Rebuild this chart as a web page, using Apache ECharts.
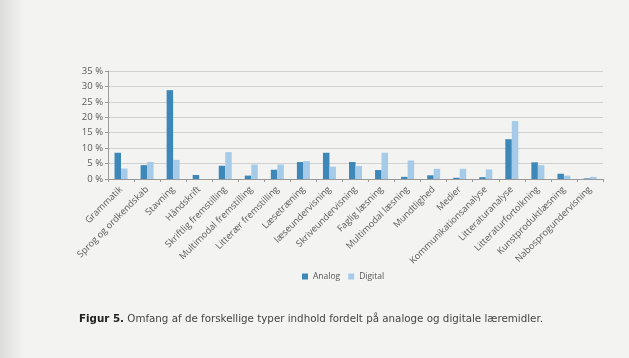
<!DOCTYPE html>
<html><head><meta charset="utf-8">
<script src="https://cdn.jsdelivr.net/npm/echarts@6/dist/echarts.min.js"></script>
<style>html,body{margin:0;padding:0;background:#f3f3f2;}#c{width:629px;height:358px;}</style>
</head><body><div id="c"></div>
<script>
const categories = ["Grammatik","Sprog og ordkendskab","Stavning","Håndskrift","Skriftlig fremstilling","Multimodal fremstilling","Litterær fremstilling","Læsetræning","læseundervisning","Skriveundervisning","Faglig læsning","Multimodal læsning","Mundtlighed","Medier","Kommunikationsanalyse","Litteraturanalyse","Litteraturfortolkning","Kunstproduktlæsning","Nabosprogundervisning"];
const analog = [8.5,4.5,28.8,1.3,4.3,1.1,3.0,5.5,8.5,5.5,2.9,0.7,1.2,0.4,0.6,12.9,5.4,1.7,0.2];
const digital = [3.4,5.5,6.2,0,8.7,4.7,4.7,5.8,4.0,4.2,8.5,6.0,3.3,3.3,3.1,18.8,4.5,1.1,0.7];
const yTicks = [0,5,10,15,20,25,30,35];

const chart = echarts.init(document.getElementById('c'));
const ff = '"Open Sans", "DejaVu Sans", sans-serif';
const cf = '"DejaVu Sans", sans-serif';
chart.setOption({
  backgroundColor: '#f3f3f2',
  animation: false,
  textStyle: {fontFamily: ff},
  graphic: [{
    type: 'rect', left: 0, top: 0, z: -10, silent: true,
    shape: {width: 24, height: 358},
    style: {fill: new echarts.graphic.LinearGradient(0,0,1,0,[{offset:0,color:'#dcdcdc'},{offset:1,color:'#f3f3f2'}])}
  }],
  title: {
    text: '{b|Figur 5.} Omfang af de forskellige typer indhold fordelt på analoge og digitale læremidler.',
    left: 74, top: 309,
    textStyle: {
      fontSize: 10.3, fontWeight: 'normal', color: '#444', fontFamily: cf,
      rich: {b: {fontSize: 10.3, fontWeight: 'bold', color: '#222', fontFamily: cf}}
    }
  },
  legend: {
    data: ['Analog','Digital'],
    left: 297, top: 267,
    itemWidth: 6, itemHeight: 6, itemGap: 8,
    textStyle: {fontSize: 8.5, color: '#555'},
    icon: 'rect'
  },
  grid: {left: 108, right: 26, top: 71, bottom: 179, containLabel: false},
  xAxis: {
    type: 'category',
    data: categories,
    axisLine: {lineStyle: {color: '#999'}},
    axisTick: {show: true, lineStyle: {color: '#999'}, length: 3},
    axisLabel: {rotate: 45, fontSize: 9.2, color: '#5a5a5a', margin: 9, interval: 0}
  },
  yAxis: {
    type: 'value',
    min: 0, max: 35, interval: 5,
    axisLine: {show: true, lineStyle: {color: '#999'}},
    axisTick: {show: true, length: 3, lineStyle: {color: '#999'}},
    axisLabel: {fontSize: 9.5, color: '#5a5a5a', margin: 5, formatter: v => yTicks.includes(v) ? v + ' %' : ''},
    splitLine: {lineStyle: {color: '#d0d0d0', width: 1}}
  },
  series: [
    {name: 'Analog', type: 'bar', data: analog, barWidth: 6.5, barGap: '0%', itemStyle: {color: '#3d88b9'}},
    {name: 'Digital', type: 'bar', data: digital, barWidth: 6.5, itemStyle: {color: '#a5cbe8'}}
  ]
});
</script></body></html>
